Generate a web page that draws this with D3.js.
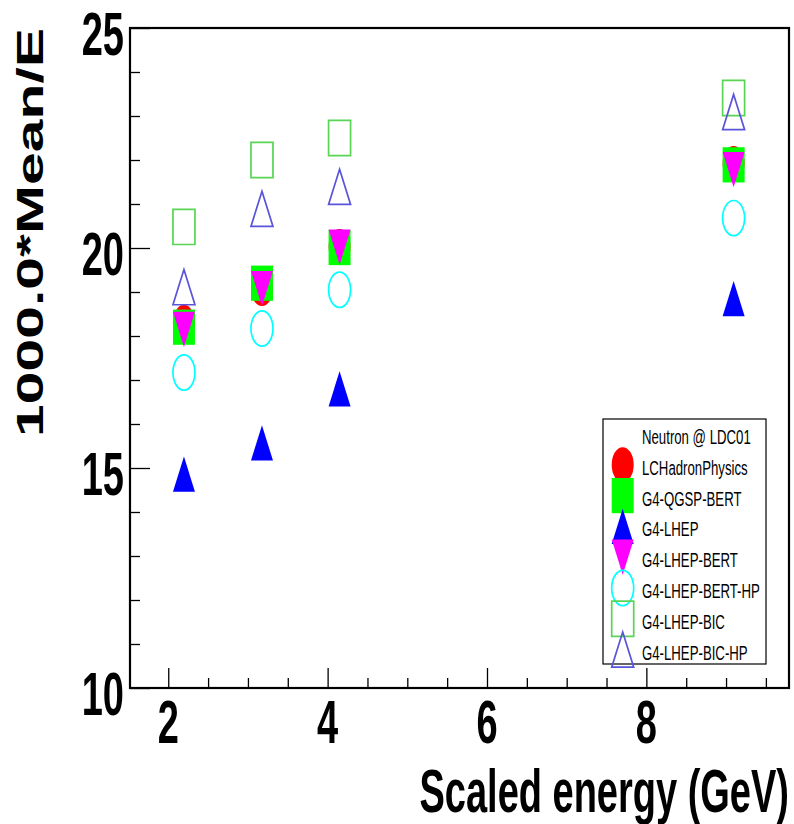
<!DOCTYPE html>
<html>
<head>
<meta charset="utf-8">
<script src="https://cdn.jsdelivr.net/npm/d3@7"></script>
<style>
  html, body { margin: 0; padding: 0; background: #fff; }
  text { font-family: "Liberation Sans", Arial, Helvetica, sans-serif; }
</style>
</head>
<body>
<svg id="chart" width="794" height="824"></svg>
<script>
// Scaled beam energy (GeV) of each run
const energies = [2.197, 3.176, 4.15, 9.095];

// 1000*Mean/E per physics list
const lcHadronPhysics = [18.31, 19.08, 20.03, 21.92];
const g4QgspBert      = [18.20, 19.20, 20.01, 21.89];
const g4Lhep          = [14.86, 15.57, 16.80, 18.85];
const g4LhepBert      = [18.15, 19.08, 20.02, 21.78];
const g4LhepBertHp    = [17.17, 18.17, 19.05, 20.68];
const g4LhepBic       = [20.48, 22.00, 22.50, 23.41];
const g4LhepBicHp     = [19.11, 20.89, 21.39, 23.09];

const seriesNames = ["LCHadronPhysics", "G4-QGSP-BERT", "G4-LHEP", "G4-LHEP-BERT",
                     "G4-LHEP-BERT-HP", "G4-LHEP-BIC", "G4-LHEP-BIC-HP"];
const legendHeader = "Neutron @ LDC01";

const xMajorTicks = [2, 4, 6, 8];
const xMinorTicks = [2.5, 3, 3.5, 4.5, 5, 5.5, 6.5, 7, 7.5, 8.5, 9, 9.5];
const yMajorTicks = [10, 15, 20, 25];
const yMinorTicks = [11, 12, 13, 14, 16, 17, 18, 19, 21, 22, 23, 24];

const xTitle = "Scaled energy (GeV)";
const yTitle = "1000.0*Mean/E";

// Marker styles: ROOT-like marker shapes and colours
const styles = [
  { shape: "circle",  fill: "#ff0000", stroke: "none" },
  { shape: "square",  fill: "#00ff00", stroke: "none" },
  { shape: "triUp",   fill: "#0000ff", stroke: "none" },
  { shape: "triDown", fill: "#ff00ff", stroke: "none" },
  { shape: "circle",  fill: "none",    stroke: "#00ffff" },
  { shape: "square",  fill: "none",    stroke: "#59d454" },
  { shape: "triUp",   fill: "none",    stroke: "#5954d9" }
];
const seriesValues = [lcHadronPhysics, g4QgspBert, g4Lhep, g4LhepBert,
                      g4LhepBertHp, g4LhepBic, g4LhepBicHp];

// The canvas is drawn stretched vertically
const K = 1.6;

const frame = { left: 130, right: 789, top: 28, bottom: 688 };
const x = d3.scaleLinear().domain([1.52, 9.79]).range([frame.left, frame.right]);
const y = d3.scaleLinear().domain([10, 25]).range([frame.bottom, frame.top]);

const svg = d3.select("#chart");

function markerPath(shape, s) {
  const p = d3.path();
  if (shape === "circle") {
    p.moveTo(s, 0); p.arc(0, 0, s, 0, 2 * Math.PI);
  } else if (shape === "square") {
    p.rect(-s, -s, 2 * s, 2 * s);
  } else if (shape === "triUp") {
    p.moveTo(0, -s); p.lineTo(s, s); p.lineTo(-s, s); p.closePath();
  } else {
    p.moveTo(0, s); p.lineTo(s, -s); p.lineTo(-s, -s); p.closePath();
  }
  return p.toString();
}

function drawMarker(g, st, cx, cy) {
  g.append("path")
    .attr("d", markerPath(st.shape, 11))
    .attr("transform", `translate(${cx},${cy}) scale(1,${K})`)
    .attr("fill", st.fill)
    .attr("stroke", st.stroke)
    .attr("stroke-width", st.stroke === "none" ? 0 : 1.7)
    .attr("vector-effect", "non-scaling-stroke");
}

function stretchedText(g, tx, ty, str, size, weight, anchor, rotate) {
  return g.append("text")
    .attr("transform", `translate(${tx},${ty}) scale(1,${K})` + (rotate ? " rotate(-90)" : ""))
    .attr("font-size", size)
    .attr("font-weight", weight)
    .attr("text-anchor", anchor)
    .attr("fill", "#000")
    .text(str);
}

// Axes: minor and major ticks pointing into the frame
const axes = svg.append("g");
axes.append("g").attr("transform", `translate(0,${frame.bottom})`)
  .call(d3.axisBottom(x).tickValues(xMinorTicks).tickSizeInner(-10).tickSizeOuter(0).tickFormat(""));
axes.append("g").attr("transform", `translate(0,${frame.bottom})`)
  .call(d3.axisBottom(x).tickValues(xMajorTicks).tickSizeInner(-20).tickSizeOuter(0).tickFormat(""));
axes.append("g").attr("transform", `translate(${frame.left},0)`)
  .call(d3.axisLeft(y).tickValues(yMinorTicks).tickSizeInner(-10).tickSizeOuter(0).tickFormat(""));
axes.append("g").attr("transform", `translate(${frame.left},0)`)
  .call(d3.axisLeft(y).tickValues(yMajorTicks).tickSizeInner(-20).tickSizeOuter(0).tickFormat(""));
axes.selectAll(".domain").remove();
axes.selectAll(".tick line").attr("stroke", "#000").attr("stroke-width", 1.3);

// Frame
svg.append("rect")
  .attr("x", frame.left).attr("y", frame.top)
  .attr("width", frame.right - frame.left).attr("height", frame.bottom - frame.top)
  .attr("fill", "none").attr("stroke", "#000").attr("stroke-width", 2.2);

// Tick labels
const labels = svg.append("g");
xMajorTicks.forEach(t => stretchedText(labels, x(t), frame.bottom + 55, String(t), 38, "bold", "middle"));
yMajorTicks.forEach(t => stretchedText(labels, frame.left - 6, y(t) + 26.5, String(t), 38, "bold", "end"));

// Axis titles
stretchedText(svg, frame.right, 812, xTitle, 38, "bold", "end");
stretchedText(svg, 43, frame.top, yTitle, 36.8, "bold", "end", true);

// Data markers
const marks = svg.append("g");
seriesValues.forEach((vals, si) => {
  vals.forEach((v, i) => drawMarker(marks, styles[si], x(energies[i]), y(v)));
});

// Legend
const lg = svg.append("g");
const box = { x: 603, y: 419, w: 163, h: 245 };
lg.append("rect").attr("x", box.x).attr("y", box.y).attr("width", box.w).attr("height", box.h)
  .attr("fill", "#fff").attr("stroke", "#000").attr("stroke-width", 1.2);
const rowY = i => 434 + 30.8 * i;
const capHalf = 0.716 * 13.2 * K / 2;
stretchedText(lg, 642, rowY(0) + 2.5 + capHalf, legendHeader, 13.2, "normal", "start");
seriesNames.forEach((name, i) => {
  drawMarker(lg, styles[i], 622.7, rowY(i + 1));
  stretchedText(lg, 642, rowY(i + 1) + 2.5 + capHalf, name, 13.2, "normal", "start");
});
</script>
</body>
</html>
